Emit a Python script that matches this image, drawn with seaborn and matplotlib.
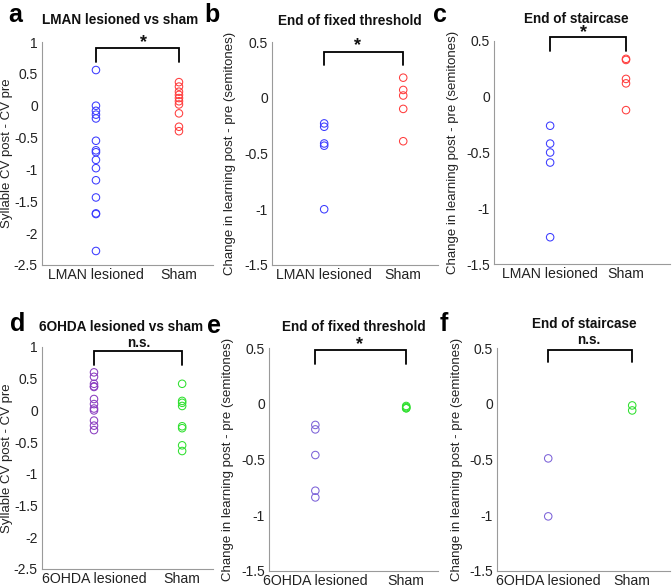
import numpy as np
import pandas as pd
import matplotlib
matplotlib.use("Agg")
import matplotlib.pyplot as plt
import seaborn as sns

sns.set_style("white")
plt.rcParams['font.family'] = ['Liberation Sans', 'DejaVu Sans']
plt.rcParams['axes.unicode_minus'] = False

# ---------------- data ----------------
cv_lman_lesion = [0.56, 0.0, -0.08, -0.14, -0.20, -0.55, -0.70, -0.73, -0.85, -0.98, -1.17, -1.44, -1.69, -1.70, -2.28]
cv_lman_sham = [0.37, 0.30, 0.22, 0.17, 0.12, 0.07, 0.02, -0.12, -0.33, -0.40]
ft_lman_lesion = [-0.23, -0.26, -0.41, -0.43, -1.00]
ft_lman_sham = [0.18, 0.07, 0.02, -0.10, -0.39]
sc_lman_lesion = [-0.26, -0.42, -0.50, -0.59, -1.26]
sc_lman_sham = [0.34, 0.33, 0.16, 0.12, -0.12]
cv_6ohda_lesion = [0.60, 0.53, 0.42, 0.38, 0.37, 0.18, 0.10, 0.03, 0.0, -0.16, -0.24, -0.31]
cv_6ohda_sham = [0.42, 0.15, 0.12, 0.07, -0.25, -0.28, -0.55, -0.64]
ft_6ohda_lesion = [-0.19, -0.23, -0.46, -0.78, -0.84]
ft_6ohda_sham = [-0.02, -0.03, -0.04, -0.04]
sc_6ohda_lesion = [-0.49, -1.01]
sc_6ohda_sham = [-0.015, -0.06]

lman_labels = ["LMAN lesioned", "Sham"]
ohda_labels = ["6OHDA lesioned", "Sham"]
titles = ["LMAN lesioned vs sham", "End of fixed threshold", "End of staircase",
          "6OHDA lesioned vs sham", "End of fixed threshold", "End of staircase"]
panel_letters = ["a", "b", "c", "d", "e", "f"]
significance = ["*", "*", "*", "n.s.", "*", "n.s."]
cv_label = "Syllable CV post - CV pre"
learn_label = "Change in learning post - pre (semitones)"

W, H = 672, 587
fig = plt.figure(figsize=(W / 100, H / 100), dpi=100)

def px_axes(L, R, T, B):
    return fig.add_axes([L / W, 1 - B / H, (R - L) / W, (B - T) / H])

def ftext(x, y, s, **kw):
    fig.text(x / W, 1 - y / H, s, **kw)

BLUE = "#3b3bff"
RED = "#ff3d3d"
PURPLE_D = "#8a3cc0"
PURPLE = "#7c62d8"
GREEN = "#2fe02f"

panels = [
    dict(lesion=cv_lman_lesion, sham=cv_lman_sham, labels=lman_labels, colors=[BLUE, RED],
         box=(42, 213, 42, 265), ylim=(-2.5, 1), yticks=[-2.5, -2, -1.5, -1, -0.5, 0, 0.5, 1],
         xlim=(-0.65, 1.41), ylabel=cv_label, ylabx=-0.168, brk=(0.906, 0.69)),
    dict(lesion=ft_lman_lesion, sham=ft_lman_sham, labels=lman_labels, colors=[BLUE, RED],
         box=(272, 438, 42, 265), ylim=(-1.5, 0.5), yticks=[-1.5, -1, -0.5, 0, 0.5],
         xlim=(-0.66, 1.44), ylabel=learn_label, ylabx=-0.217, brk=(0.41, 0.29)),
    dict(lesion=sc_lman_lesion, sham=sc_lman_sham, labels=lman_labels, colors=[BLUE, RED],
         box=(494, 670, 41, 264), ylim=(-1.5, 0.5), yticks=[-1.5, -1, -0.5, 0, 0.5],
         xlim=(-0.74, 1.58), ylabel=learn_label, ylabx=-0.199, brk=(0.535, 0.41)),
    dict(lesion=cv_6ohda_lesion, sham=cv_6ohda_sham, labels=ohda_labels, colors=[PURPLE_D, GREEN],
         box=(42, 213, 347, 569), ylim=(-2.5, 1), yticks=[-2.5, -2, -1.5, -1, -0.5, 0, 0.5, 1],
         xlim=(-0.59, 1.35), ylabel=cv_label, ylabx=-0.168, brk=(0.94, 0.72)),
    dict(lesion=ft_6ohda_lesion, sham=ft_6ohda_sham, labels=ohda_labels, colors=[PURPLE, GREEN],
         box=(269, 438, 348, 571), ylim=(-1.5, 0.5), yticks=[-1.5, -1, -0.5, 0, 0.5],
         xlim=(-0.51, 1.35), ylabel=learn_label, ylabx=-0.207, brk=(0.48, 0.36)),
    dict(lesion=sc_6ohda_lesion, sham=sc_6ohda_sham, labels=ohda_labels, colors=[PURPLE, GREEN],
         box=(497, 670, 348, 571), ylim=(-1.5, 0.5), yticks=[-1.5, -1, -0.5, 0, 0.5],
         xlim=(-0.61, 1.45), ylabel=learn_label, ylabx=-0.197, brk=(0.48, 0.37)),
]

SPINE = "#9a9a9a"
TXT = "#222222"

for p in panels:
    ax = px_axes(*p["box"])
    df = pd.DataFrame({
        "group": [p["labels"][0]] * len(p["lesion"]) + [p["labels"][1]] * len(p["sham"]),
        "value": list(p["lesion"]) + list(p["sham"]),
    })
    sns.stripplot(data=df, x="group", y="value", hue="group", order=p["labels"],
                  hue_order=p["labels"], palette=p["colors"], jitter=False, size=5.4,
                  linewidth=0.7, legend=False, ax=ax)
    for coll, c in zip(ax.collections, p["colors"]):
        coll.set_facecolor("none")
        coll.set_edgecolor(c)
        coll.set_linewidth(0.75)
    ax.set_xlim(*p["xlim"])
    ax.set_ylim(*p["ylim"])
    ax.set_yticks(p["yticks"])
    ax.set_yticklabels([("%g" % t) for t in p["yticks"]])
    ax.set_xlabel("")
    ax.set_ylabel(p["ylabel"], fontsize=9.5, color=TXT)
    ax.yaxis.set_label_coords(p["ylabx"], 0.5)
    for s in ["top", "right"]:
        ax.spines[s].set_visible(False)
    for s in ["left", "bottom"]:
        ax.spines[s].set_color(SPINE)
        ax.spines[s].set_linewidth(0.8)
    ax.tick_params(axis="y", direction="in", length=3, width=0.8, color=SPINE, labelsize=10,
                   labelcolor=TXT, pad=3)
    ax.tick_params(axis="x", direction="in", length=3, width=0.8, color=SPINE, labelsize=10.2,
                   labelcolor=TXT, pad=2)
    ax.set_facecolor("white")
    top, leg = p["brk"]
    ax.plot([0, 0, 1, 1], [leg, top, top, leg], color="black", lw=1.3, clip_on=False,
            solid_joinstyle="miter")

# titles
title_pos = [(120, 20), (350, 21), (576, 19), (121, 327), (354, 327), (584, 324)]
for (x, y), t in zip(title_pos, titles):
    ftext(x, y, t, ha="center", va="center", fontsize=9.8, fontweight="bold", color="#111111")

# significance marks
sig_pos = [(143, 43), (358, 46), (584, 33), (139, 343), (360, 345), (589, 340)]
for (x, y), s in zip(sig_pos, significance):
    if s == "*":
        ftext(x, y, s, ha="center", va="center", fontsize=13, fontweight="bold", color="#111111")
    else:
        ftext(x, y, s, ha="center", va="center", fontsize=9.8, fontweight="bold", color="#111111")

# panel letters
letter_pos = [(15, 15), (212, 15), (440, 15), (18, 324), (214, 326), (444, 324)]
for (x, y), s in zip(letter_pos, panel_letters):
    ftext(x, y, s, ha="center", va="center", fontsize=18, fontweight="bold", color="black")

fig.savefig("out.png", dpi=100, facecolor="white")
